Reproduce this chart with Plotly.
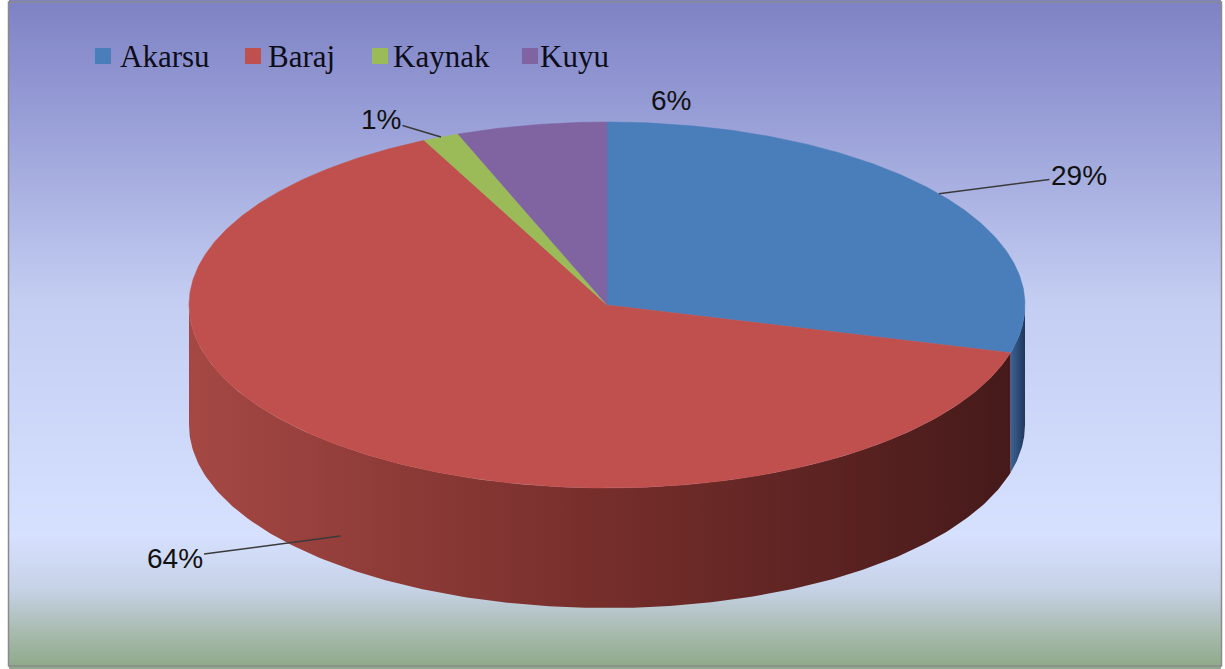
import numpy as np
import plotly.graph_objects as go

# ---------------- data ----------------
categories = ["Akarsu", "Baraj", "Kaynak", "Kuyu"]
values = [29.2, 63.6, 1.4, 5.8]
pct_labels = ["29%", "64%", "1%", "6%"]

# ---------------- style ----------------
top_colors = ["#4a7ebb", "#c0504d", "#9bbb59", "#8064a2"]
side_scales = [
    [[0, "rgb(60,100,150)"], [1, "rgb(30,55,90)"]],
    [[0, "rgb(165,72,68)"], [0.5, "rgb(118,46,43)"], [1, "rgb(70,26,26)"]],
    [[0, "rgb(120,145,70)"], [1, "rgb(80,100,45)"]],
    [[0, "rgb(100,78,128)"], [1, "rgb(70,55,90)"]],
]
W, H = 1225, 669
CX, CY, RX, RY, DEPTH = 607, 305, 418, 183, 120


def pt(theta_deg, dy=0.0, r=1.0):
    th = np.radians(theta_deg)
    return CX + r * RX * np.sin(th), CY - r * RY * np.cos(th) + dy


fig = go.Figure()

# background gradient
ny = 120
yedges = np.linspace(0, H, ny + 1)
ycent = (yedges[:-1] + yedges[1:]) / 2
zbg = np.array([[yc, yc] for yc in ycent])
fig.add_trace(go.Heatmap(
    x=[9, 615, 1221], y=yedges, z=zbg, zmin=0, zmax=H,
    colorscale=[[0, "rgb(126,130,196)"], [0.15, "rgb(148,154,212)"],
                [0.45, "rgb(196,206,242)"], [0.8, "rgb(214,224,255)"],
                [0.88, "rgb(198,210,230)"], [0.95, "rgb(165,185,170)"],
                [1.0, "rgb(140,168,136)"]],
    showscale=False, hoverinfo="skip", zsmooth="best"))

# angles
total = sum(values)
bounds = np.concatenate([[0], np.cumsum(values) / total * 360])

# side faces (front half 90..270 deg)
for i, cat in enumerate(categories):
    a0, a1 = bounds[i], bounds[i + 1]
    s0, s1 = max(a0, 90), min(a1, 270)
    if s1 <= s0:
        continue
    th = np.linspace(s0, s1, 200)
    xt, yt = pt(th)
    xb, yb = pt(th[::-1], DEPTH)
    xs = np.concatenate([xt, xb, xt[:1]])
    ys = np.concatenate([yt, yb, yt[:1]])
    fig.add_trace(go.Scatter(
        x=xs, y=ys, mode="lines", fill="toself", line=dict(width=0),
        fillgradient=dict(type="horizontal", colorscale=side_scales[i]),
        hoverinfo="skip", showlegend=False))

# top faces
for i, cat in enumerate(categories):
    a0, a1 = bounds[i], bounds[i + 1]
    th = np.linspace(a0, a1, max(int((a1 - a0) * 2), 4))
    xa, ya = pt(th)
    xs = np.concatenate([[CX], xa, [CX]])
    ys = np.concatenate([[CY], ya, [CY]])
    fig.add_trace(go.Scatter(
        x=xs, y=ys, mode="lines", fill="toself", fillcolor=top_colors[i],
        line=dict(width=0.5, color=top_colors[i]), hoverinfo="skip",
        showlegend=False))

# data labels
label_font = dict(family="Liberation Sans", size=28, color="#111111")
label_offsets = [(140, -18), (-166, 22), (-60, -18), (140, -25)]
for i, cat in enumerate(categories):
    mid = (bounds[i] + bounds[i + 1]) / 2
    if i == 1:
        x, y = pt(mid, DEPTH * 0.75)
    else:
        x, y = pt(mid)
    ax, ay = label_offsets[i]
    if i == 3:
        fig.add_annotation(x=x + ax, y=y + ay, xref="x", yref="y",
                           text=pct_labels[i], showarrow=False, font=label_font)
    else:
        fig.add_annotation(x=x, y=y, xref="x", yref="y", ax=ax, ay=ay,
                           text=pct_labels[i], showarrow=True, arrowhead=0,
                           arrowwidth=1.5, arrowcolor="#3a3a3a", standoff=0,
                           font=label_font)

# custom legend
leg_sq_x = [95, 245, 372, 522]
leg_tx_x = [118, 266, 391, 538]
leg_y = 56
for i, cat in enumerate(categories):
    fig.add_shape(type="rect", xref="x", yref="y",
                  x0=leg_sq_x[i], x1=leg_sq_x[i] + 16,
                  y0=leg_y - 8, y1=leg_y + 8,
                  fillcolor=top_colors[i], line=dict(width=0))
    fig.add_annotation(x=leg_tx_x[i], y=leg_y, xref="x", yref="y",
                       text=cat, showarrow=False, xanchor="left",
                       yanchor="middle",
                       font=dict(family="Liberation Serif", size=31,
                                 color="#0d0d1a"))

# frame
fig.add_shape(type="rect", xref="x", yref="y", x0=8.5, x1=1221.5, y0=2, y1=666,
              line=dict(color="#8a8a8a", width=1.5), fillcolor="rgba(0,0,0,0)")

fig.update_layout(
    width=W, height=H, margin=dict(l=0, r=0, t=0, b=0),
    paper_bgcolor="white", plot_bgcolor="white",
    xaxis=dict(range=[0, W], visible=False, fixedrange=True),
    yaxis=dict(range=[H, 0], visible=False, fixedrange=True),
    showlegend=False,
)

fig.write_html(
    "out.html",
    config={"displayModeBar": False},
    post_script="document.body.style.margin='0px';document.body.style.overflow='hidden';",
)
